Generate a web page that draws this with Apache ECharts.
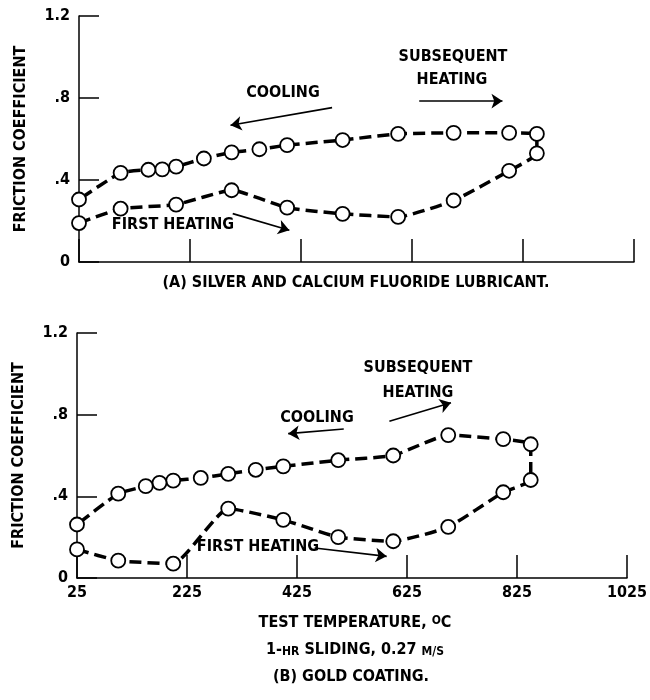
<!DOCTYPE html>
<html>
<head>
<meta charset="utf-8">
<script src="https://cdn.jsdelivr.net/npm/echarts@6/dist/echarts.min.js"></script>
<style>
html,body{margin:0;padding:0;background:#fff;}
#chart{width:650px;height:700px;}
</style>
</head>
<body>
<div id="chart"></div>
<script>
// ---- Data ----
// Panel A: silver and calcium fluoride lubricant
const aHeatT = [25, 100, 200, 300, 400, 500, 600, 700, 800, 850];
const aHeatV = [0.19, 0.26, 0.28, 0.35, 0.265, 0.235, 0.22, 0.30, 0.445, 0.53];
const aCoolT = [850, 800, 700, 600, 500, 400, 350, 300, 250, 200, 175, 150, 100, 25];
const aCoolV = [0.625, 0.63, 0.63, 0.625, 0.595, 0.57, 0.55, 0.535, 0.505, 0.465, 0.452, 0.45, 0.435, 0.305];
// Panel B: gold coating
const bHeatT = [25, 100, 200, 300, 400, 500, 600, 700, 800, 850];
const bHeatV = [0.14, 0.085, 0.07, 0.34, 0.285, 0.20, 0.18, 0.25, 0.42, 0.48];
const bCoolT = [850, 800, 700, 600, 500, 400, 350, 300, 250, 200, 175, 150, 100, 25];
const bCoolV = [0.655, 0.68, 0.70, 0.60, 0.577, 0.547, 0.53, 0.51, 0.49, 0.477, 0.466, 0.45, 0.413, 0.262];

const xTicks = [25, 225, 425, 625, 825, 1025];
const yTickLabels = ['0', '.4', '.8', '1.2'];

// annotation arrows in data coordinates [fromT, fromV, toT, toV]
const aArrows = [[481, 0.753, 298, 0.667], [638, 0.785, 788, 0.785], [302, 0.236, 404, 0.155]];
const bArrows = [[593, 0.768, 705, 0.858], [510, 0.730, 409, 0.707], [457, 0.147, 588, 0.106]];

const FONT = "'DejaVu Sans Condensed','Liberation Sans Narrow',sans-serif";
const FW = 'bold';

function pairs(ts, vs) { return ts.map((t, i) => [t, vs[i]]); }

function yAxis(gi) {
  return {
    type: 'value', gridIndex: gi, min: 0, max: 1.2, interval: 0.4,
    name: 'FRICTION COEFFICIENT', nameLocation: 'middle', nameRotate: 90, nameGap: 50,
    nameTextStyle: { fontFamily: FONT, fontWeight: FW, fontSize: 16, color: '#000' },
    axisLine: { show: true, lineStyle: { color: '#000', width: 1.5 } },
    axisTick: { show: true, inside: true, length: 20, lineStyle: { color: '#000', width: 1.5 } },
    axisLabel: { fontFamily: FONT, fontWeight: FW, fontSize: 16, color: '#000', margin: 9,
      formatter: v => yTickLabels[Math.round(v / 0.4)] },
    splitLine: { show: false }
  };
}
function xAxis(gi, showLabels) {
  return {
    type: 'value', gridIndex: gi, min: 25, max: 1025,
    axisLine: { show: true, lineStyle: { color: '#000', width: 1.5 } },
    axisTick: { show: true, inside: true, length: 23, customValues: xTicks, lineStyle: { color: '#000', width: 1.5 } },
    axisLabel: { show: showLabels, customValues: xTicks, fontFamily: FONT, fontWeight: FW, fontSize: 16, color: '#000', margin: 7,
      formatter: v => String(v) },
    splitLine: { show: false }
  };
}
function arrowLines(arr) {
  return arr.map(a => [{ coord: [a[0], a[1]] }, { coord: [a[2], a[3]] }]);
}
function series(gi, heatT, heatV, coolT, coolV, arrows) {
  return {
    type: 'line', xAxisIndex: gi, yAxisIndex: gi,
    data: pairs(heatT, heatV).concat(pairs(coolT, coolV)),
    smooth: 0.15,
    symbol: 'circle', symbolSize: 14,
    itemStyle: { color: '#fff', borderColor: '#000', borderWidth: 1.8 },
    lineStyle: { color: '#000', width: 3.5, type: [12, 6] },
    z: 3,
    markLine: {
      silent: true, symbol: ['none', 'arrow'], symbolSize: 11,
      label: { show: false },
      lineStyle: { color: '#000', width: 1.6, type: 'solid' },
      emphasis: { disabled: true },
      data: arrowLines(arrows)
    }
  };
}
function txt(x, y, text, extra) {
  return {
    type: 'text', x: x, y: y, silent: true,
    style: Object.assign({ text: text, fontFamily: FONT, fontWeight: FW, fontSize: 16, fill: '#000',
      align: 'center', verticalAlign: 'middle', textAlign: 'center', textVerticalAlign: 'middle' }, extra || {})
  };
}

const chart = echarts.init(document.getElementById('chart'), null, { renderer: 'canvas' });
chart.setOption({
  animation: false,
  backgroundColor: '#fff',
  grid: [
    { left: 79, right: 16, top: 16, bottom: 438, containLabel: false },
    { left: 77, right: 18, top: 333, bottom: 122, containLabel: false }
  ],
  xAxis: [xAxis(0, false), xAxis(1, true)],
  yAxis: [yAxis(0), yAxis(1)],
  series: [
    series(0, aHeatT, aHeatV, aCoolT, aCoolV, aArrows),
    series(1, bHeatT, bHeatV, bCoolT, bCoolV, bArrows)
  ],
  graphic: [
    txt(283, 93, 'COOLING'),
    txt(453, 57, 'SUBSEQUENT'),
    txt(452, 80, 'HEATING'),
    txt(173, 225, 'FIRST HEATING'),
    txt(356, 283, '(A) SILVER AND CALCIUM FLUORIDE LUBRICANT.'),
    txt(418, 368, 'SUBSEQUENT'),
    txt(418, 393, 'HEATING'),
    txt(317, 418, 'COOLING'),
    txt(258, 547, 'FIRST HEATING'),
    txt(355, 623, 'TEST TEMPERATURE, {s|O}C', { rich: { s: { fontFamily: FONT, fontWeight: FW, fontSize: 12, verticalAlign: 'top' } } }),
    txt(355, 650, '1-{s|HR} SLIDING, 0.27 {s|M/S}', { rich: { s: { fontFamily: FONT, fontWeight: FW, fontSize: 12, verticalAlign: 'bottom' } } }),
    txt(351, 677, '(B) GOLD COATING.')
  ]
});
</script>
</body>
</html>
